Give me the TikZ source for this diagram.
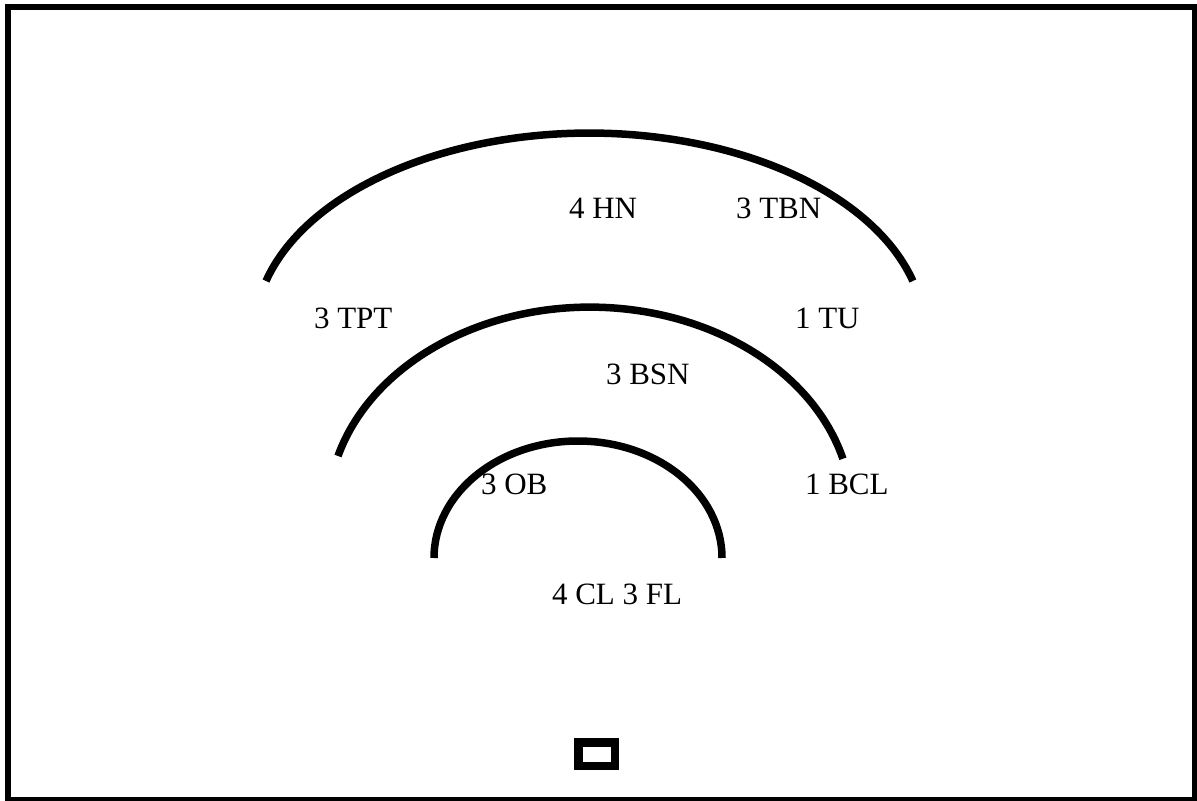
\documentclass[tikz,border=0pt]{standalone}
\usepackage{fontspec}
\setmainfont{Liberation Serif}
\tikzset{
  lbl/.style={anchor=base west, inner sep=0pt, outer sep=0pt, font=\fontsize{31bp}{37bp}\selectfont},
  band/.style={line width=7.5bp, line cap=butt},
}
\begin{document}
\begin{tikzpicture}[x=1bp,y=-1bp]
\useasboundingbox (0,0) rectangle (1197,801);
% frame
\draw[line width=6bp] (8,7) rectangle (1195,800);
% arcs
\draw[band] (266,281) arc[start angle=195.1, end angle=344.9, x radius=335, y radius=200];
\draw[band] (338,456) arc[start angle=195.9, end angle=344.9, x radius=262, y radius=205];
\draw[band] (434,558) arc[start angle=180, end angle=360, x radius=144, y radius=117];
% small box
\draw[line width=8.5bp] (578.5,742.5) rectangle (615,766);
% labels
\node[lbl] (hn)  at (569,218) {4 HN};
\node[lbl] (tbn) at (736,218) {3 TBN};
\node[lbl] (tpt) at (314,328) {3 TPT};
\node[lbl] (tu)  at (795,328) {1 TU};
\node[lbl] (bsn) at (606,384) {3 BSN};
\node[lbl] (ob)  at (481,494) {3 OB};
\node[lbl] (bcl) at (805,494) {1 BCL};
\node[lbl] (clfl) at (552,604) {4 CL 3 FL};
\end{tikzpicture}
\end{document}
